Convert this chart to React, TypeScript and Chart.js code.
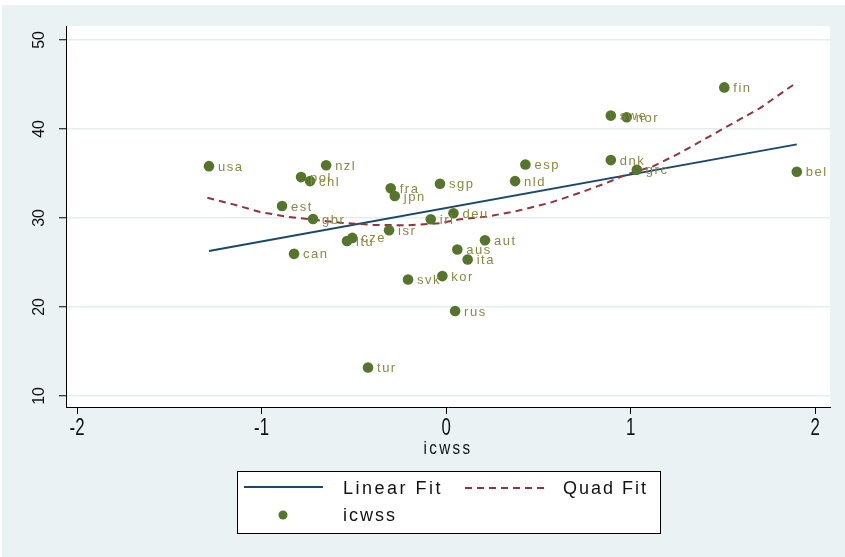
import React, { useEffect, useRef } from 'react';
import { Chart, registerables } from 'chart.js';

Chart.register(...registerables);

// ---- data ----
const countries = ['usa', 'nzl', 'pol', 'chl', 'est', 'gbr', 'can', 'ltu', 'cze', 'isr', 'fra', 'jpn', 'sgp', 'irl', 'deu', 'esp', 'nld', 'aut', 'aus', 'ita', 'kor', 'svk', 'rus', 'tur', 'fin', 'swe', 'nor', 'dnk', 'grc', 'bel'];
const icwss = [-1.285, -0.650, -0.786, -0.737, -0.889, -0.721, -0.824, -0.537, -0.508, -0.309, -0.300, -0.278, -0.033, -0.083, 0.040, 0.430, 0.374, 0.211, 0.061, 0.117, -0.020, -0.206, 0.049, -0.423, 1.508, 0.893, 0.979, 0.893, 1.034, 1.901];
const outcome = [35.82, 35.93, 34.59, 34.14, 31.34, 29.89, 25.97, 27.42, 27.76, 28.62, 33.33, 32.46, 33.84, 29.85, 30.53, 36.01, 34.14, 27.50, 26.45, 25.33, 23.47, 23.09, 19.55, 13.20, 44.67, 41.50, 41.31, 36.50, 35.41, 35.19];

const linearFitX = [-1.285, 1.901];
const linearFitY = [26.30, 38.27];

const quadFitX = [-1.294, -1.153, -1.008, -0.863, -0.737, -0.575, -0.394, -0.213, -0.033, 0.076, 0.221, 0.383, 0.564, 0.726, 0.871, 0.979, 1.124, 1.268, 1.413, 1.557, 1.702, 1.901];
const quadFitY = [32.27, 31.53, 30.67, 30.15, 29.85, 29.47, 29.22, 29.18, 29.41, 29.85, 30.15, 30.78, 31.71, 32.83, 33.95, 34.89, 35.82, 37.31, 38.99, 40.67, 42.35, 45.23];

const xTicks = [-2, -1, 0, 1, 2];
const yTicks = [10, 20, 30, 40, 50];
const xTitle = 'icwss';
const legendLabels = ['Linear Fit', 'Quad Fit', 'icwss'];

// ---- styles ----
const BG = '#eaf2f3';
const GRID = '#e4edef';
const BLUE = '#1a476f';
const RED = '#90353b';
const GREEN = '#55752c';
const LABEL = '#8a8840';
const FONT = '"Liberation Sans", Arial, sans-serif';

const decorPlugin = {
  id: 'decor',
  beforeDraw(chart: any) {
    const { ctx, chartArea } = chart;
    ctx.save();
    ctx.fillStyle = '#ffffff';
    ctx.fillRect(0, 0, chart.width, chart.height);
    ctx.fillStyle = BG;
    ctx.fillRect(2, 5, chart.width - 2, chart.height - 5);
    ctx.fillStyle = '#ffffff';
    ctx.fillRect(chartArea.left, chartArea.top, chartArea.right - chartArea.left, chartArea.bottom - chartArea.top);
    ctx.restore();
  },
  afterDatasetsDraw(chart: any) {
    const { ctx } = chart;
    const meta = chart.getDatasetMeta(2);
    ctx.save();
    ctx.font = '13px ' + FONT;
    ctx.fillStyle = LABEL;
    ctx.textBaseline = 'middle';
    ctx.textAlign = 'left';
    (ctx as any).letterSpacing = '1.5px';
    meta.data.forEach((el: any, i: number) => {
      ctx.fillText(countries[i], el.x + 9, el.y + 1);
    });
    ctx.restore();
  },
  afterDraw(chart: any) {
    const { ctx } = chart;
    const xs = chart.scales.x;
    const ys = chart.scales.y;
    ctx.save();
    ctx.fillStyle = '#111';
    // y tick labels, rotated
    ctx.font = '16px ' + FONT;
    ctx.textAlign = 'center';
    ctx.textBaseline = 'middle';
    yTicks.forEach((v) => {
      const py = ys.getPixelForValue(v);
      ctx.save();
      ctx.translate(40, py);
      ctx.rotate(-Math.PI / 2);
      ctx.fillText(String(v), 0, 0);
      ctx.restore();
    });
    // x tick labels (condensed)
    ctx.font = '24px ' + FONT;
    xTicks.forEach((v) => {
      const px = xs.getPixelForValue(v);
      ctx.save();
      ctx.translate(px, 428);
      ctx.scale(0.7, 1);
      ctx.fillText(String(v), 0, 0);
      ctx.restore();
    });
    // axis title
    ctx.save();
    ctx.font = '19px ' + FONT;
    ctx.translate((chart.chartArea.left + chart.chartArea.right) / 2, 449);
    ctx.scale(0.8, 1);
    (ctx as any).letterSpacing = '3px';
    ctx.fillText(xTitle, 0, 0);
    ctx.restore();

    // legend
    ctx.fillStyle = '#ffffff';
    ctx.fillRect(237, 471, 423, 62);
    ctx.strokeStyle = '#000';
    ctx.lineWidth = 1;
    ctx.strokeRect(237.5, 471.5, 423, 62);

    ctx.lineWidth = 2;
    ctx.strokeStyle = BLUE;
    ctx.beginPath();
    ctx.moveTo(244, 487);
    ctx.lineTo(323, 487);
    ctx.stroke();

    ctx.strokeStyle = RED;
    ctx.setLineDash([7, 5]);
    ctx.beginPath();
    ctx.moveTo(465, 488);
    ctx.lineTo(545, 488);
    ctx.stroke();
    ctx.setLineDash([]);

    ctx.fillStyle = GREEN;
    ctx.beginPath();
    ctx.arc(283, 515, 4.5, 0, Math.PI * 2);
    ctx.fill();

    ctx.fillStyle = '#111';
    ctx.font = '18px ' + FONT;
    ctx.textAlign = 'left';
    ctx.textBaseline = 'middle';
    (ctx as any).letterSpacing = '2.5px';
    ctx.fillText(legendLabels[0], 343, 489);
    (ctx as any).letterSpacing = '2px';
    ctx.fillText(legendLabels[1], 563, 489);
    ctx.fillText(legendLabels[2], 343, 516);
    ctx.restore();
  },
};

export default function App() {
  const ref = useRef<HTMLCanvasElement>(null);
  useEffect(() => {
    if (!ref.current) return;
    const chart = new Chart(ref.current, {
      type: 'scatter',
      data: {
        datasets: [
          {
            type: 'line',
            label: legendLabels[0],
            data: linearFitX.map((x, i) => ({ x, y: linearFitY[i] })),
            borderColor: BLUE,
            borderWidth: 2,
            pointRadius: 0,
            fill: false,
            tension: 0,
            order: 2,
          } as any,
          {
            type: 'line',
            label: legendLabels[1],
            data: quadFitX.map((x, i) => ({ x, y: quadFitY[i] })),
            borderColor: RED,
            borderWidth: 2,
            borderDash: [7, 5],
            pointRadius: 0,
            fill: false,
            tension: 0,
            order: 1,
          } as any,
          {
            type: 'scatter',
            label: legendLabels[2],
            data: icwss.map((x, i) => ({ x, y: outcome[i] })),
            backgroundColor: GREEN,
            borderColor: GREEN,
            borderWidth: 0,
            pointRadius: 5.3,
            order: 0,
          },
        ],
      },
      options: {
        responsive: false,
        animation: false,
        devicePixelRatio: 1,
        layout: { padding: { left: 0, right: 15, top: 26, bottom: 0 } },
        plugins: { legend: { display: false }, tooltip: { enabled: false } },
        scales: {
          x: {
            type: 'linear',
            min: -2.06,
            max: 2.081,
            afterBuildTicks: (s: any) => { s.ticks = xTicks.map((v) => ({ value: v })); },
            afterFit: (s: any) => { s.height = 150; },
            ticks: { display: false },
            grid: { drawOnChartArea: false, tickColor: '#000', tickLength: 7, tickWidth: 1 },
            border: { display: true, color: '#000', width: 1 },
          },
          y: {
            type: 'linear',
            min: 8.76,
            max: 51.57,
            afterBuildTicks: (s: any) => { s.ticks = yTicks.map((v) => ({ value: v })); },
            afterFit: (s: any) => { s.width = 66; },
            ticks: { display: false },
            grid: { color: GRID, lineWidth: 1.5, tickColor: '#000', tickLength: 7, tickWidth: 1 },
            border: { display: true, color: '#000', width: 1 },
          },
        },
      },
      plugins: [decorPlugin],
    });
    return () => chart.destroy();
  }, []);
  return (
    <div style={{ position: 'absolute', left: 0, top: 0, width: 845, height: 557 }}>
      <canvas ref={ref} width={845} height={557} style={{ display: 'block', width: 845, height: 557 }} />
    </div>
  );
}
